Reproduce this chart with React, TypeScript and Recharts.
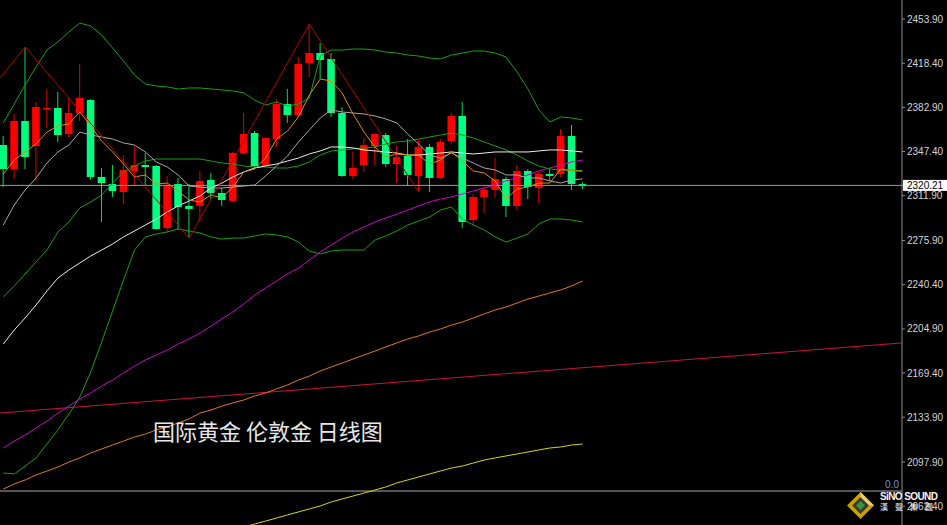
import React from 'react';
import { ComposedChart, Bar, Line, XAxis, YAxis, ReferenceLine } from 'recharts';

// daily candles, oldest first
const opens = [2352.7, 2333.4, 2372.0, 2351.9, 2381.6, 2382.4, 2361.5, 2378.4, 2388.8, 2327.0, 2321.3, 2314.9, 2331.8, 2336.6, 2335.8, 2286.0, 2321.3, 2303.7, 2303.7, 2324.6, 2314.1, 2307.7, 2346.2, 2362.3, 2335.8, 2357.5, 2385.6, 2376.8, 2418.6, 2426.6, 2421.8, 2378.4, 2327.8, 2336.6, 2351.9, 2360.7, 2337.4, 2343.8, 2327.8, 2351.1, 2326.2, 2355.9, 2376.0, 2292.4, 2310.9, 2316.5, 2325.4, 2303.7, 2331.8, 2318.1, 2329.4, 2329.4, 2359.9, 2321.3];
const highs = [2359.9, 2377.6, 2431.4, 2387.2, 2397.7, 2395.3, 2391.3, 2417.8, 2389.6, 2334.2, 2336.6, 2344.6, 2351.9, 2346.2, 2336.6, 2327.8, 2326.2, 2321.3, 2331.8, 2330.2, 2318.1, 2347.1, 2378.4, 2363.9, 2359.1, 2389.6, 2397.7, 2423.4, 2449.9, 2434.6, 2426.6, 2383.2, 2347.1, 2358.3, 2362.3, 2362.3, 2351.9, 2357.5, 2356.7, 2353.5, 2357.5, 2378.4, 2387.2, 2313.3, 2320.5, 2342.2, 2327.0, 2336.6, 2333.4, 2331.0, 2333.4, 2365.5, 2368.8, 2322.9];
const lows = [2318.9, 2325.4, 2333.4, 2323.8, 2366.3, 2355.1, 2359.1, 2372.0, 2324.6, 2290.8, 2310.9, 2305.3, 2320.5, 2320.5, 2284.4, 2282.0, 2284.4, 2277.9, 2290.8, 2309.3, 2303.7, 2306.9, 2344.6, 2335.0, 2335.0, 2351.1, 2370.4, 2376.0, 2407.3, 2405.7, 2375.2, 2327.0, 2325.4, 2331.0, 2336.6, 2335.0, 2322.1, 2320.5, 2314.9, 2314.9, 2325.4, 2353.5, 2286.0, 2287.6, 2298.0, 2310.1, 2294.8, 2300.4, 2309.3, 2306.1, 2323.8, 2327.0, 2316.5, 2317.3];
const closes = [2333.4, 2372.0, 2343.0, 2383.2, 2382.4, 2360.7, 2378.4, 2390.5, 2327.0, 2322.1, 2315.7, 2332.6, 2336.6, 2335.0, 2285.2, 2319.7, 2302.9, 2301.3, 2323.8, 2314.1, 2308.5, 2346.2, 2361.5, 2335.8, 2358.3, 2385.6, 2376.8, 2417.8, 2426.6, 2421.0, 2378.4, 2327.8, 2334.2, 2352.7, 2361.5, 2337.4, 2343.0, 2328.6, 2351.1, 2326.2, 2355.1, 2376.0, 2290.8, 2310.9, 2316.5, 2325.4, 2303.7, 2331.8, 2318.9, 2329.4, 2327.8, 2359.9, 2321.3, 2320.21];

// indicators
const bbUpper = [2370.4, 2385.6, 2400.9, 2415.4, 2429.0, 2435.5, 2443.5, 2450.7, 2448.3, 2441.1, 2430.6, 2420.2, 2408.9, 2401.7, 2400.1, 2399.3, 2397.7, 2398.5, 2398.5, 2397.7, 2396.9, 2396.1, 2394.5, 2388.8, 2384.8, 2387.2, 2384.0, 2385.6, 2390.5, 2424.2, 2429.0, 2429.0, 2429.8, 2429.8, 2429.0, 2427.4, 2426.6, 2425.0, 2424.2, 2422.6, 2421.8, 2425.0, 2426.6, 2428.2, 2428.2, 2426.6, 2423.4, 2411.3, 2397.7, 2380.8, 2371.2, 2375.2, 2374.4, 2372.8];
const bbMid = [2230.5, 2239.4, 2249.0, 2258.7, 2268.3, 2282.8, 2290.8, 2302.1, 2306.9, 2312.5, 2322.1, 2331.0, 2335.8, 2339.8, 2341.4, 2341.4, 2341.4, 2341.4, 2341.4, 2339.8, 2338.2, 2337.4, 2335.8, 2335.0, 2335.0, 2334.2, 2334.2, 2335.8, 2339.0, 2344.6, 2347.9, 2348.7, 2349.5, 2350.3, 2351.1, 2353.5, 2355.1, 2355.9, 2357.5, 2359.1, 2360.7, 2362.3, 2360.7, 2358.3, 2355.1, 2351.9, 2348.7, 2344.6, 2339.8, 2335.8, 2333.4, 2332.6, 2332.6, 2331.8];
const bbLower = [2089.1, 2088.3, 2094.7, 2101.2, 2112.4, 2123.7, 2136.5, 2150.2, 2170.3, 2194.4, 2219.3, 2244.2, 2268.3, 2278.8, 2281.2, 2282.8, 2285.2, 2283.6, 2282.0, 2278.8, 2277.1, 2277.9, 2277.9, 2279.6, 2281.2, 2280.4, 2278.8, 2274.7, 2267.5, 2265.1, 2267.5, 2268.3, 2268.3, 2268.3, 2276.3, 2279.6, 2283.6, 2288.4, 2291.6, 2294.8, 2300.4, 2302.9, 2293.2, 2288.4, 2284.4, 2278.8, 2274.7, 2277.9, 2281.2, 2289.2, 2293.2, 2293.2, 2292.4, 2290.8];
const ma5 = [2329.4, 2340.6, 2347.1, 2353.5, 2363.1, 2368.0, 2369.6, 2379.2, 2368.0, 2355.9, 2347.1, 2337.4, 2327.0, 2328.6, 2321.3, 2322.1, 2315.7, 2308.5, 2306.9, 2312.5, 2310.1, 2318.9, 2331.0, 2333.4, 2342.2, 2357.5, 2363.9, 2375.2, 2392.9, 2405.7, 2404.1, 2394.5, 2377.6, 2363.1, 2351.1, 2343.0, 2345.5, 2344.6, 2344.6, 2337.4, 2340.6, 2347.1, 2339.8, 2331.8, 2330.2, 2323.8, 2309.3, 2317.3, 2318.9, 2322.1, 2322.1, 2333.4, 2331.8, 2331.8];
const ma10 = [2288.4, 2304.5, 2316.5, 2326.2, 2338.2, 2347.1, 2352.7, 2363.1, 2360.7, 2359.1, 2357.5, 2354.3, 2352.7, 2347.1, 2339.0, 2335.0, 2328.6, 2319.7, 2318.9, 2318.1, 2318.1, 2318.9, 2319.7, 2320.5, 2327.8, 2335.8, 2343.8, 2355.1, 2364.7, 2374.4, 2380.8, 2379.2, 2378.4, 2377.6, 2376.0, 2373.6, 2370.4, 2361.5, 2353.5, 2344.6, 2342.2, 2346.2, 2342.2, 2338.2, 2334.2, 2332.6, 2328.6, 2328.6, 2326.2, 2326.2, 2323.8, 2322.1, 2324.6, 2325.4];
const ma30 = [2192.8, 2204.0, 2213.7, 2224.1, 2235.4, 2245.8, 2252.2, 2257.9, 2263.5, 2268.3, 2273.1, 2278.8, 2283.6, 2288.4, 2293.2, 2298.8, 2303.7, 2307.7, 2311.7, 2318.1, 2322.1, 2327.0, 2331.0, 2334.2, 2335.8, 2337.4, 2339.8, 2342.2, 2345.5, 2347.9, 2351.1, 2351.1, 2350.3, 2348.7, 2347.9, 2347.1, 2346.2, 2344.6, 2344.6, 2345.5, 2346.2, 2347.1, 2346.2, 2345.5, 2346.2, 2347.1, 2347.1, 2347.1, 2347.1, 2347.9, 2348.7, 2348.7, 2347.9, 2347.1];
const ma60 = [2109.2, 2114.8, 2119.6, 2125.3, 2130.9, 2137.3, 2142.9, 2148.6, 2153.4, 2159.0, 2163.8, 2169.5, 2175.1, 2179.9, 2183.9, 2187.9, 2192.8, 2196.8, 2201.6, 2207.2, 2212.9, 2218.5, 2224.9, 2232.1, 2237.8, 2243.4, 2249.0, 2253.8, 2260.3, 2266.7, 2272.3, 2277.9, 2282.8, 2286.8, 2290.8, 2294.0, 2297.2, 2300.4, 2303.7, 2306.9, 2309.3, 2310.9, 2313.3, 2315.7, 2318.1, 2320.5, 2323.8, 2326.2, 2328.6, 2331.8, 2334.2, 2336.6, 2339.0, 2340.6];
const ma120 = [2076.2, 2080.3, 2083.5, 2087.5, 2090.7, 2093.9, 2097.9, 2101.2, 2105.2, 2108.4, 2111.6, 2114.8, 2118.0, 2120.4, 2123.7, 2126.1, 2129.3, 2132.5, 2137.3, 2139.7, 2142.9, 2145.4, 2147.8, 2151.0, 2153.4, 2156.6, 2159.8, 2163.8, 2167.0, 2171.1, 2174.3, 2177.5, 2180.7, 2183.9, 2187.1, 2190.4, 2193.6, 2196.8, 2199.2, 2202.4, 2204.8, 2208.0, 2210.4, 2213.7, 2216.9, 2220.1, 2222.5, 2225.7, 2228.9, 2231.3, 2233.8, 2236.2, 2239.4, 2243.4];
// long MA only shows up from bar 21 on
const ma240Start = 21;
const ma240 = [2043.3, 2045.7, 2048.1, 2050.5, 2052.9, 2055.4, 2057.8, 2060.2, 2062.6, 2065.8, 2068.2, 2070.6, 2073.0, 2075.4, 2077.9, 2081.1, 2083.5, 2085.9, 2088.3, 2090.7, 2093.1, 2094.7, 2097.1, 2099.5, 2101.2, 2102.8, 2104.4, 2106.0, 2107.6, 2109.2, 2110.0, 2111.6, 2112.4];

// zigzag pivots (bar index, price)
const zigzagBars = [-0.302, 2, 17, 28, 38];
const zigzagPrices = [2406.5, 2431.4, 2277.9, 2449.9, 2314.9];

// hand drawn trend line
const trendBars = [-0.302, 82.22];
const trendPrices = [2137.3, 2193.6];

const yTicks = [2453.9, 2418.4, 2382.9, 2347.4, 2311.9, 2275.9, 2240.4, 2204.9, 2169.4, 2133.9, 2097.9, 2062.4];
const lastPrice = 2320.21;
const separatorPrice = 2074.6;

const xDomain = [-0.302, 82.22];
const yDomain = [2047.3, 2469.2];

const data = opens.map((o, i) => ({
  i,
  open: o,
  high: highs[i],
  low: lows[i],
  close: closes[i],
  bbUpper: bbUpper[i],
  bbMid: bbMid[i],
  bbLower: bbLower[i],
  ma5: ma5[i],
  ma10: ma10[i],
  ma30: ma30[i],
  ma60: ma60[i],
  ma120: ma120[i],
  ma240: i >= ma240Start ? ma240[i - ma240Start] : null,
}));

const zigzag = zigzagBars.map((b, k) => ({ i: b, v: zigzagPrices[k] }));

const Candle = (props: any) => {
  const { x, y, width, height, payload } = props;
  if (!payload || height == null) return null;
  const { open, close, high, low } = payload;
  const top = Math.min(y, y + height);
  const h = Math.abs(height);
  const k = h / (high - low || 1);
  const up = close >= open;
  const color = up ? '#ff0000' : '#00ff7f';
  const cx = x + width / 2;
  const bodyTop = top + (high - Math.max(open, close)) * k;
  const bodyH = Math.max(1.5, Math.abs(close - open) * k);
  return (
    <g>
      <line x1={cx} x2={cx} y1={top} y2={top + h} stroke={up ? '#e00000' : '#00dd55'} strokeWidth={1} />
      <rect x={cx - 3.8} y={bodyTop} width={7.6} height={bodyH} fill={color} />
    </g>
  );
};

const AxisTick = (props: any) => {
  const { x, y, payload } = props;
  const v = payload.value;
  if (v === lastPrice) {
    return (
      <g>
        <rect x={x - 4} y={y - 5.5} width={46} height={11} fill="#ffffff" />
        <text x={x} y={y} dy={3.6} fontSize={10} fill="#000000" fontFamily="Liberation Sans, Arial, sans-serif">
          {v.toFixed(2)}
        </text>
      </g>
    );
  }
  return (
    <text x={x} y={y} dy={3.6} fontSize={10} fill="#d4d4d4" fontFamily="Liberation Sans, Arial, sans-serif">
      {v.toFixed(2)}
    </text>
  );
};

const lineProps = { type: 'linear' as const, dot: false, activeDot: false, isAnimationActive: false, strokeWidth: 1 };

export default function App() {
  return (
    <div style={{ position: 'fixed', left: 0, top: 0, width: 947, height: 525, background: '#000', overflow: 'hidden', fontFamily: 'Liberation Sans, Arial, sans-serif' }}>
      <ComposedChart width={947} height={525} data={data} margin={{ top: 0, right: 0, bottom: 0, left: 0 }}>
        <XAxis type="number" dataKey="i" domain={xDomain} allowDataOverflow hide />
        <YAxis
          orientation="right"
          type="number"
          domain={yDomain}
          allowDataOverflow
          ticks={[...yTicks, lastPrice]}
          interval={0}
          width={45}
          tickSize={3}
          tickMargin={2}
          tick={<AxisTick />}
          axisLine={{ stroke: '#8c8c8c' }}
          tickLine={{ stroke: '#8c8c8c' }}
        />
        <ReferenceLine y={separatorPrice} stroke="#a8a8a8" ifOverflow="hidden"
          label={{ value: '0.0', position: 'insideBottomRight', fill: '#6f92d8', fontSize: 10, offset: 3 }} />
        <ReferenceLine y={lastPrice} stroke="#9a9a9a" ifOverflow="hidden" />
        <ReferenceLine
          segment={[{ x: trendBars[0], y: trendPrices[0] }, { x: trendBars[1], y: trendPrices[1] }]}
          stroke="#c8143c"
          ifOverflow="hidden"
        />
        <Bar dataKey={(d: any) => [d.low, d.high]} barSize={8} shape={<Candle />} isAnimationActive={false} />
        <Line dataKey="ma240" stroke="#d8d800" {...lineProps} />
        <Line dataKey="ma120" stroke="#e07a10" {...lineProps} />
        <Line dataKey="ma60" stroke="#d000d0" {...lineProps} />
        <Line dataKey="bbUpper" stroke="#14a014" {...lineProps} />
        <Line dataKey="bbLower" stroke="#14a014" {...lineProps} />
        <Line dataKey="bbMid" stroke="#14a014" {...lineProps} />
        <Line dataKey="ma30" stroke="#ececec" {...lineProps} />
        <Line dataKey="ma10" stroke="#a8a8a8" {...lineProps} />
        <Line dataKey="ma5" stroke="#e08c00" {...lineProps} />
        <Line data={zigzag} dataKey="v" stroke="#b40000" {...lineProps} />
      </ComposedChart>

      <div style={{ position: 'absolute', left: 153, top: 418, fontSize: 22, lineHeight: '24px', color: '#e6e6e6', fontFamily: '"Noto Sans CJK SC", sans-serif', whiteSpace: 'nowrap' }}>
        国际黄金 伦敦金 日线图
      </div>

      <svg style={{ position: 'absolute', left: 847, top: 492 }} width={27} height={27}>
        <polygon points="13.5,0 27,13.5 13.5,27 0,13.5" fill="#c9a400" />
        <polygon points="13.5,0 27,13.5 13.5,13.5" fill="#e8d070" />
        <polygon points="13.5,5 22,13.5 13.5,22 5,13.5" fill="#3a3a3a" />
        <polygon points="13.5,9 18,13.5 13.5,18 9,13.5" fill="#2f9a2f" />
      </svg>
      <div style={{ position: 'absolute', left: 880, top: 491, fontSize: 10, fontWeight: 'bold', color: '#f4f4f4', letterSpacing: -0.6, whiteSpace: 'nowrap', lineHeight: '12px' }}>
        SiNO SOUND
      </div>
      <div style={{ position: 'absolute', left: 880, top: 502, fontSize: 8, color: '#f4f4f4', whiteSpace: 'nowrap', lineHeight: '10px', fontFamily: '"Noto Sans CJK TC", sans-serif', letterSpacing: 7 }}>
        漢聲集團
      </div>
    </div>
  );
}
